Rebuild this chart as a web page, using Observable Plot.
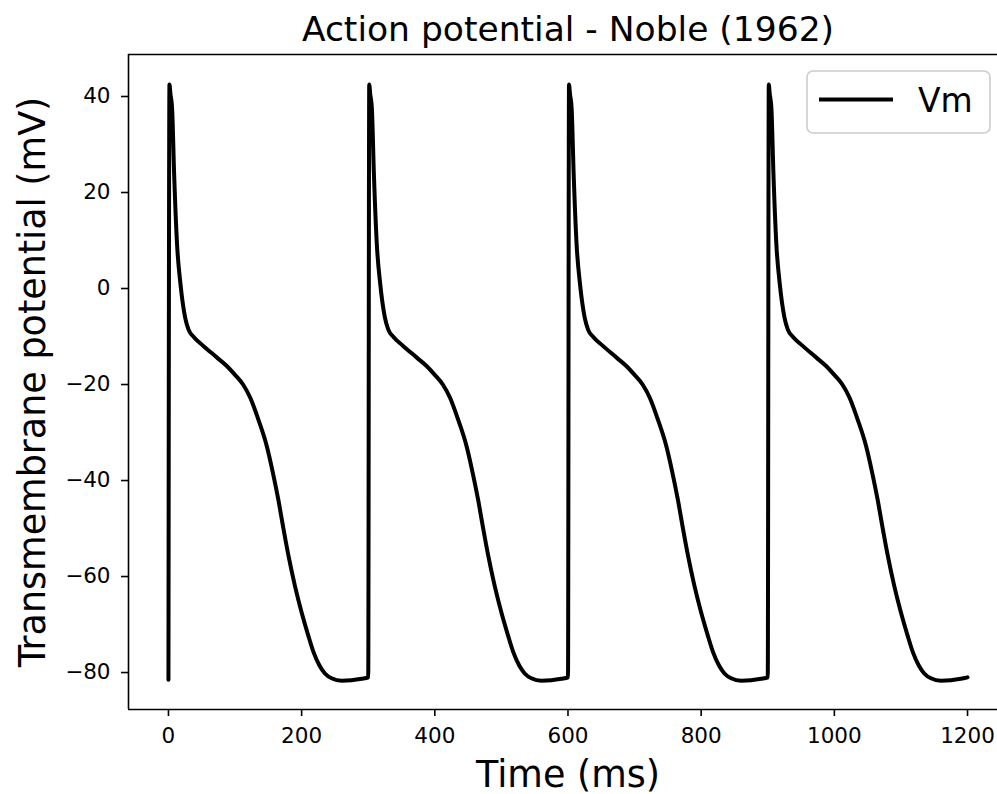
<!DOCTYPE html>
<html><head><meta charset="utf-8">
<script src="https://cdn.jsdelivr.net/npm/d3@7"></script>
<script src="https://cdn.jsdelivr.net/npm/@observablehq/plot@0.6"></script>
<style>body{margin:0;background:#fff} svg{display:block}</style>
</head><body><div id="chart"></div>
<script>
// Action potential - Noble (1962): four beats, period 300 ms
const cycleStarts = [0, 300, 600, 900];
const restV = [-81.5, -81.0, -81.0, -81.0];
// one beat, time relative to upstroke (ms) and membrane potential (mV)
const cycleT = [0, 1.5, 3, 5.5, 8.5, 13, 18, 25, 30, 38, 52, 73, 88, 100, 112, 123, 135, 148, 157, 165, 172, 180, 190, 200, 210, 218, 227, 235, 245, 260, 275, 290];
const cycleV = [-81.0, 42.5, 40.5, 37.5, 24, 9, 1, -6, -8.5, -10.1, -11.9, -14.4, -16.2, -18.0, -20.0, -22.8, -27.3, -33.0, -38.5, -44, -49.5, -55.5, -62, -67.5, -72.3, -75.8, -78.6, -80.2, -81.2, -81.7, -81.6, -81.3];
const endT = 1200, endV = -81.0;
const xTicks = [0, 200, 400, 600, 800, 1000, 1200];
const yTicks = [-80, -60, -40, -20, 0, 20, 40];
const xDomain = [-60, 1245];
const yDomain = [-87.7, 48.75];
const title = "Action potential - Noble (1962)";
const xLabel = "Time (ms)";
const yLabel = "Transmembrane potential (mV)";
const seriesName = "Vm";

const data = [];
cycleStarts.forEach((s, i) => {
  data.push({t: s, v: restV[i]});
  for (let k = 1; k < cycleT.length; k++) data.push({t: s + cycleT[k], v: cycleV[k]});
});
data.push({t: endT, v: endV});

const font = "'DejaVu Sans', sans-serif";
const fmt = d => d < 0 ? "\u2212" + Math.abs(d) : String(d);

const plot = Plot.plot({
  width: 997, height: 794,
  marginTop: 54, marginBottom: 85, marginLeft: 128, marginRight: 0,
  style: {fontFamily: font, background: "#fff", color: "#000"},
  x: {domain: xDomain},
  y: {domain: yDomain},
  marks: [
    Plot.ruleX([xDomain[0]], {stroke: "#000", strokeWidth: 1.6}),
    Plot.ruleY(yDomain, {stroke: "#000", strokeWidth: 1.6}),
    Plot.axisX({ticks: xTicks, tickSize: 7, tickPadding: 11, fontSize: 21.5, label: null, tickFormat: fmt, strokeWidth: 1.6, fill: "#000"}),
    Plot.axisY({ticks: yTicks, tickSize: 7, tickPadding: 11, fontSize: 21.5, label: null, tickFormat: fmt, strokeWidth: 1.6, fill: "#000"}),
    Plot.line(data, {x: "t", y: "v", stroke: "#000", strokeWidth: 4, curve: "monotone-x"}),
    Plot.text([title], {frameAnchor: "top", textAnchor: "middle", dx: 5, dy: -14, lineAnchor: "bottom", fontSize: 34.5, fill: "#000"}),
    Plot.text([xLabel], {frameAnchor: "bottom", textAnchor: "middle", dx: 5, dy: 77, lineAnchor: "bottom", fontSize: 36.5, fill: "#000"}),
    Plot.text([yLabel], {frameAnchor: "left", textAnchor: "middle", dx: -84, rotate: -90, lineAnchor: "bottom", fontSize: 36.5, fill: "#000"})
  ]
});

const svg = d3.select(plot);
const lg = svg.append("g");
lg.append("rect").attr("x", 807).attr("y", 71).attr("width", 183).attr("height", 62)
  .attr("rx", 6).attr("fill", "#fff").attr("fill-opacity", 0.8).attr("stroke", "#cccccc").attr("stroke-width", 1.6);
lg.append("line").attr("x1", 819).attr("x2", 893).attr("y1", 99.5).attr("y2", 99.5)
  .attr("stroke", "#000").attr("stroke-width", 4);
lg.append("text").attr("x", 918).attr("y", 111.5).attr("font-size", 33).attr("fill", "#000")
  .attr("text-anchor", "start").attr("font-family", font).text(seriesName);

document.getElementById("chart").append(plot);
</script>
</body></html>
